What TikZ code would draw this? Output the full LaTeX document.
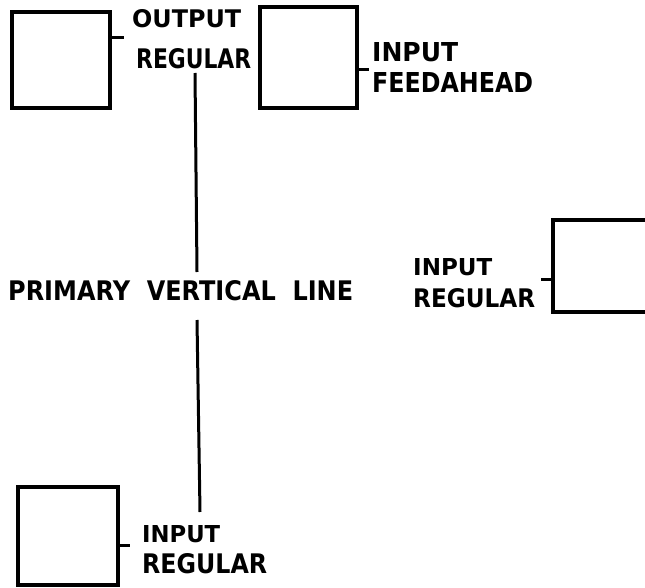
\documentclass[tikz,border=0pt]{standalone}
\usepackage{fontspec}
\setmainfont{DejaVu Sans}
\usepackage{graphicx}
\newcommand\lbl[3]{\resizebox{#1pt}{#2pt}{#3}}
\begin{document}
\begin{tikzpicture}[x=1pt,y=-1pt,
  blk/.style={draw,line width=3.2pt,rectangle,inner sep=0pt},
  tick/.style={line width=3pt},
  vline/.style={line width=3pt},
  txt/.style={inner sep=0pt,anchor=base west,font=\bfseries\fontsize{25}{25}\selectfont}]
\clip (0,0) rectangle (645,588);
\useasboundingbox (0,0) rectangle (645,588);
% boxes
\node[blk,minimum width=98pt,minimum height=96pt] (b1) at (61,60) {};
\node[blk,minimum width=97pt,minimum height=101pt] (b2) at (308.5,57.5) {};
\node[blk,minimum width=120pt,minimum height=92pt] (b3) at (613,266) {};
\node[blk,minimum width=100pt,minimum height=98pt] (b4) at (68,536) {};
% ticks
\draw[tick] (b1.east |- 0,38) -- ++(12,0);
\draw[tick] (b2.east |- 0,70) -- ++(10,0);
\draw[tick] (b3.west |- 0,279) -- ++(-10,0);
\draw[tick] (b4.east |- 0,545) -- ++(10,0);
% labels
\node[txt] (t1a) at (132,28) {\lbl{109}{18}{OUTPUT}};
\node[txt] (t1b) at (136,69) {\lbl{115}{20}{REGULAR}};
\node[txt] (t2a) at (372,62) {\lbl{86}{19}{INPUT}};
\node[txt] (t2b) at (372,93) {\lbl{161}{20}{FEEDAHEAD}};
\node[txt] (t3a) at (413,275) {\lbl{79}{17}{INPUT}};
\node[txt] (t3b) at (413,307) {\lbl{122}{19}{REGULAR}};
\node[txt] (pv) at (8,300) {\lbl{345}{20}{PRIMARY\ \ VERTICAL\ \ LINE}};
\node[txt] (t4a) at (142,542) {\lbl{78}{17}{INPUT}};
\node[txt] (t4b) at (142,573) {\lbl{125}{20}{REGULAR}};
% primary vertical line
\coordinate (v1) at (195,73);
\coordinate (v2) at (197,272);
\coordinate (v3) at (197,320);
\coordinate (v4) at (200,512);
\draw[vline] (v1) -- (v2);
\draw[vline] (v3) -- (v4);
\end{tikzpicture}
\end{document}
